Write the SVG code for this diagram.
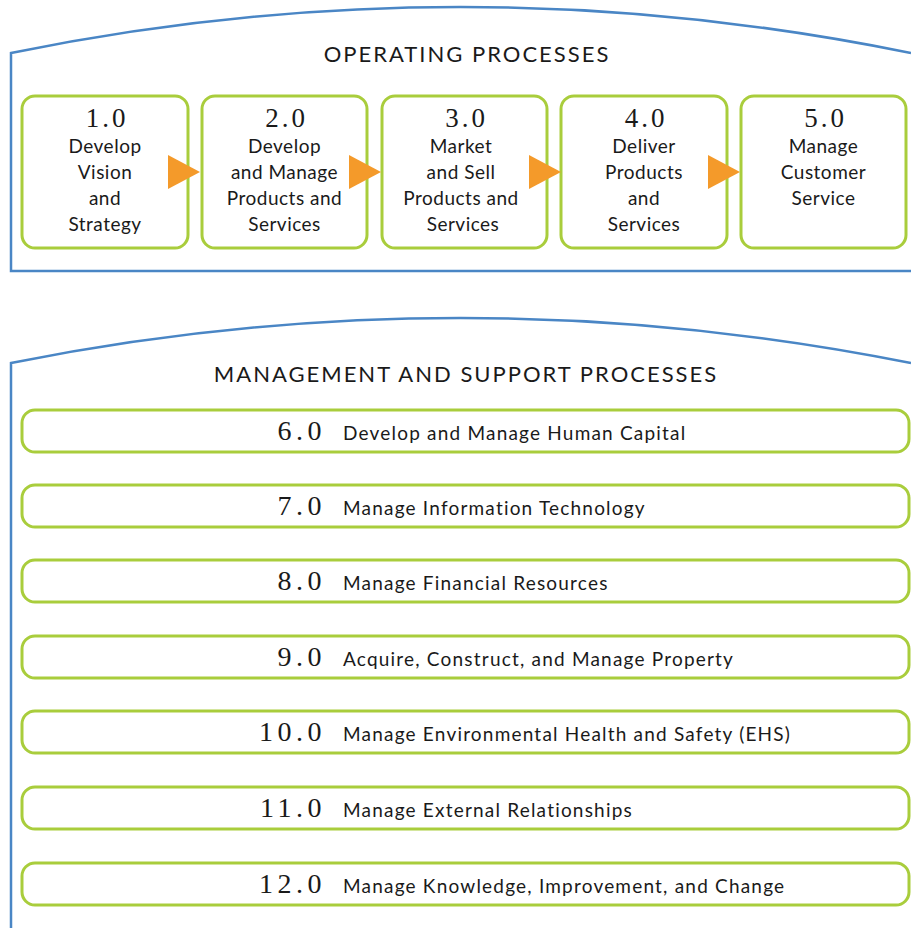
<svg xmlns="http://www.w3.org/2000/svg" width="911" height="928" viewBox="0 0 911 928">
<style>
.panel{fill:none;stroke:#4a86c5;stroke-width:2.5}
.box{fill:#fff;stroke:#a9cd3c;stroke-width:3}
.arrow{fill:#f49a2a}
.title{font-family:Lato,"Open Sans",sans-serif;font-size:22px;fill:#1a1a1a;text-anchor:middle;letter-spacing:2px}
.num{font-family:"Liberation Serif",serif;font-size:27px;fill:#1a1a1a;letter-spacing:3px}
.lbl{font-family:Lato,"Open Sans",sans-serif;font-size:19px;fill:#1a1a1a;letter-spacing:0.5px}
.c{text-anchor:middle}
.bnum{font-family:"Liberation Serif",serif;font-size:28px;fill:#1a1a1a;text-anchor:end;letter-spacing:4.5px}
.blbl{font-family:Lato,"Open Sans",sans-serif;font-size:19px;fill:#1a1a1a;letter-spacing:1.2px}
</style>
<rect width="911" height="928" fill="#fff"/>
<g id="panel-operating">
<path class="panel" d="M911,53 Q460,-39 11,53 L11,271 L911,271"/>
<text class="title" x="467" y="62">OPERATING PROCESSES</text>
</g>
<g id="panel-management">
<path class="panel" d="M911,363 Q460,273 11,363 L11,928"/>
<text class="title" x="466" y="382">MANAGEMENT AND SUPPORT PROCESSES</text>
</g>
<g id="node-1">
<rect class="box" x="22" y="96" width="166" height="152" rx="13"/>
<text class="num c" x="107" y="127">1.0</text>
<text class="lbl c" x="105" y="153">Develop</text>
<text class="lbl c" x="105" y="179">Vision</text>
<text class="lbl c" x="105" y="205">and</text>
<text class="lbl c" x="105" y="231">Strategy</text>
</g>
<g id="node-2">
<rect class="box" x="202" y="96" width="165" height="152" rx="13"/>
<text class="num c" x="286.5" y="127">2.0</text>
<text class="lbl c" x="284.5" y="153">Develop</text>
<text class="lbl c" x="284.5" y="179">and Manage</text>
<text class="lbl c" x="284.5" y="205">Products and</text>
<text class="lbl c" x="284.5" y="231">Services</text>
</g>
<g id="node-3">
<rect class="box" x="382" y="96" width="165" height="152" rx="13"/>
<text class="num c" x="466.5" y="127">3.0</text>
<text class="lbl c" x="461" y="153">Market</text>
<text class="lbl c" x="461" y="179">and Sell</text>
<text class="lbl c" x="461" y="205">Products and</text>
<text class="lbl c" x="463" y="231">Services</text>
</g>
<g id="node-4">
<rect class="box" x="561" y="96" width="166" height="152" rx="13"/>
<text class="num c" x="646" y="127">4.0</text>
<text class="lbl c" x="644" y="153">Deliver</text>
<text class="lbl c" x="644" y="179">Products</text>
<text class="lbl c" x="644" y="205">and</text>
<text class="lbl c" x="644" y="231">Services</text>
</g>
<g id="node-5">
<rect class="box" x="741" y="96" width="165" height="152" rx="13"/>
<text class="num c" x="825.5" y="127">5.0</text>
<text class="lbl c" x="823.5" y="153">Manage</text>
<text class="lbl c" x="823.5" y="179">Customer</text>
<text class="lbl c" x="823.5" y="205">Service</text>
</g>
<g id="node-6">
<rect class="box" x="22" y="410" width="887" height="42" rx="13"/>
<text class="bnum" x="326" y="440">6.0</text>
<text class="blbl" x="343" y="440">Develop and Manage Human Capital</text>
</g>
<g id="node-7">
<rect class="box" x="22" y="485" width="887" height="42" rx="13"/>
<text class="bnum" x="326" y="515">7.0</text>
<text class="blbl" x="343" y="515">Manage Information Technology</text>
</g>
<g id="node-8">
<rect class="box" x="22" y="560" width="887" height="42" rx="13"/>
<text class="bnum" x="326" y="590">8.0</text>
<text class="blbl" x="343" y="590">Manage Financial Resources</text>
</g>
<g id="node-9">
<rect class="box" x="22" y="636" width="887" height="42" rx="13"/>
<text class="bnum" x="326" y="666">9.0</text>
<text class="blbl" x="343" y="666">Acquire, Construct, and Manage Property</text>
</g>
<g id="node-10">
<rect class="box" x="22" y="711" width="887" height="42" rx="13"/>
<text class="bnum" x="326" y="741">10.0</text>
<text class="blbl" x="343" y="741">Manage Environmental Health and Safety (EHS)</text>
</g>
<g id="node-11">
<rect class="box" x="22" y="787" width="887" height="42" rx="13"/>
<text class="bnum" x="326" y="817">11.0</text>
<text class="blbl" x="343" y="817">Manage External Relationships</text>
</g>
<g id="node-12">
<rect class="box" x="22" y="863" width="887" height="42" rx="13"/>
<text class="bnum" x="326" y="893">12.0</text>
<text class="blbl" x="343" y="893">Manage Knowledge, Improvement, and Change</text>
</g>
<g id="connectors">
<polygon class="arrow" points="168,155 200,172 168,189"/>
<polygon class="arrow" points="349,155 381,172 349,189"/>
<polygon class="arrow" points="529,155 561,172 529,189"/>
<polygon class="arrow" points="708,155 740,172 708,189"/>
</g>
</svg>
